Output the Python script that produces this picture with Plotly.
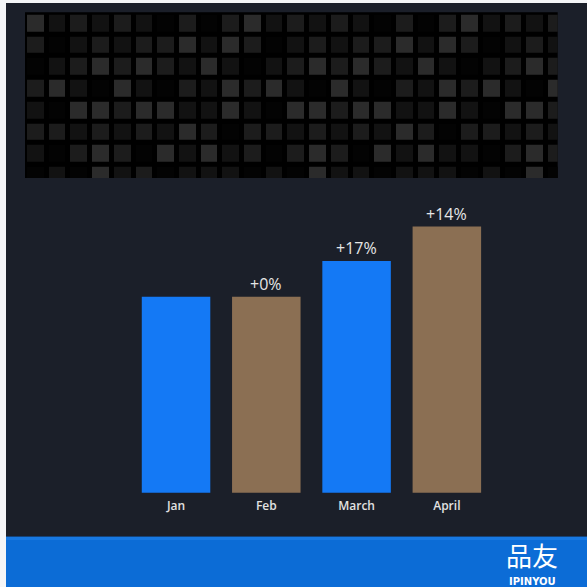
import plotly.graph_objects as go

# ---- data -------------------------------------------------------------
months = ["Jan", "Feb", "March", "April"]
sales = [100, 100, 117, 133.5]
bar_colors = ["#1479f5", "#8b6f53", "#1479f5", "#8b6f53"]

# brightness level (0 = black ... 3 = light grey) of each tile in the header mosaic
mosaic_levels = [
    [3, 1, 2, 1, 2, 1, 0, 2, 0, 2, 3, 1, 2, 1, 2, 1, 0, 2, 0, 2, 3, 1, 2, 1, 2],
    [2, 0, 1, 2, 1, 2, 2, 3, 1, 3, 2, 0, 1, 2, 1, 2, 2, 3, 1, 3, 2, 0, 1, 2, 1],
    [0, 1, 2, 3, 2, 3, 2, 1, 3, 1, 0, 1, 2, 3, 2, 3, 2, 1, 3, 1, 0, 1, 2, 3, 2],
    [2, 3, 1, 0, 3, 1, 0, 2, 1, 3, 2, 3, 1, 0, 3, 1, 0, 2, 1, 3, 2, 3, 1, 0, 3],
    [1, 0, 3, 3, 2, 3, 3, 1, 1, 3, 1, 0, 3, 3, 2, 3, 3, 1, 1, 3, 1, 0, 3, 3, 2],
    [2, 2, 1, 2, 1, 2, 1, 3, 2, 0, 2, 2, 1, 2, 1, 2, 1, 3, 2, 0, 2, 2, 1, 2, 1],
    [1, 0, 2, 3, 2, 0, 3, 1, 3, 1, 2, 0, 2, 3, 2, 0, 3, 1, 3, 1, 1, 0, 2, 3, 2],
    [0, 1, 0, 3, 1, 2, 0, 1, 1, 1, 0, 1, 0, 3, 1, 1, 0, 1, 1, 1, 0, 1, 0, 3, 0],
]
mosaic_greys = ["#030303", "#121212", "#1c1c1c", "#2b2b2b"]

# month-over-month change labels, computed from the values
change_labels = [None] + [
    "+{:.0f}%".format((sales[i] / sales[i - 1] - 1) * 100) for i in range(1, len(sales))
]

W = H = 587


def px_x(p):
    return p / W


def px_y(p):
    return 1 - p / H


fig = go.Figure()

# header mosaic
n_rows = len(mosaic_levels)
n_cols = len(mosaic_levels[0])
fig.add_trace(
    go.Heatmap(
        z=mosaic_levels,
        x=list(range(n_cols)),
        y=list(range(n_rows)),
        zmin=0,
        zmax=3,
        colorscale=[[i / 3, c] for i, c in enumerate(mosaic_greys)],
        showscale=False,
        xgap=5,
        ygap=5,
        hoverinfo="skip",
        xaxis="x",
        yaxis="y",
    )
)

# monthly bars
fig.add_trace(
    go.Bar(
        x=months,
        y=sales,
        marker=dict(color=bar_colors, line=dict(width=0)),
        xaxis="x2",
        yaxis="y2",
        hoverinfo="skip",
    )
)

annotations = []
for m, v, lab in zip(months, sales, change_labels):
    if lab is None:
        continue
    annotations.append(
        dict(
            x=m,
            y=v,
            xref="x2",
            yref="y2",
            text=lab,
            showarrow=False,
            yanchor="bottom",
            yshift=0,
            font=dict(family="Open Sans", size=16, color="#e6e6e6"),
        )
    )

# brand mark in the footer band
annotations.append(
    dict(
        x=px_x(531.5), y=px_y(554), xref="paper", yref="paper",
        text="品友", showarrow=False, xanchor="center", yanchor="middle",
        font=dict(family="Noto Sans CJK SC", size=26, color="#ffffff"),
    )
)
annotations.append(
    dict(
        x=px_x(532.5), y=px_y(581), xref="paper", yref="paper",
        text="IPINYOU", showarrow=False, xanchor="center", yanchor="middle",
        font=dict(family="DejaVu Sans", size=10, color="#ffffff", weight="bold"),
    )
)

shapes = [
    # dark panel
    dict(type="rect", xref="paper", yref="paper", x0=px_x(6), x1=1, y0=0, y1=px_y(3),
         fillcolor="#1b1f29", line=dict(width=0), layer="below"),
    # black backing for the mosaic
    dict(type="rect", xref="paper", yref="paper", x0=px_x(25), x1=px_x(557.7),
         y0=px_y(178), y1=px_y(12.3), fillcolor="#000000", line=dict(width=0), layer="below"),
    # footer band
    dict(type="rect", xref="paper", yref="paper", x0=px_x(6), x1=1, y0=0, y1=px_y(536.7),
         fillcolor="#0c6cd6", line=dict(width=0), layer="below"),
    dict(type="rect", xref="paper", yref="paper", x0=px_x(6), x1=1, y0=px_y(540), y1=px_y(536.7),
         fillcolor="#1778e2", line=dict(width=0), layer="below"),
]

fig.update_layout(
    width=W,
    height=H,
    autosize=False,
    margin=dict(l=0, r=0, t=0, b=0),
    paper_bgcolor="#f4f5f7",
    plot_bgcolor="rgba(0,0,0,0)",
    showlegend=False,
    bargap=0.241,
    shapes=shapes,
    annotations=annotations,
    xaxis=dict(domain=[px_x(25), px_x(557.7)], range=[-0.5, 24.04], visible=False,
               fixedrange=True),
    yaxis=dict(domain=[px_y(178), px_y(12.3)], range=[7.11, -0.52], visible=False,
               fixedrange=True),
    xaxis2=dict(domain=[px_x(130.9), px_x(492)], range=[-0.5, 3.5], anchor="y2",
                type="category", showgrid=False, zeroline=False, showline=False,
                ticks="", ticklabelstandoff=4,
                tickfont=dict(family="Open Sans", size=12, color="#e2e2e2", weight=600),
                fixedrange=True),
    yaxis2=dict(domain=[px_y(492.7), px_y(180)], range=[6.2, 155.8], anchor="x2",
                visible=False, fixedrange=True),
)

fig.write_html("out.html")
